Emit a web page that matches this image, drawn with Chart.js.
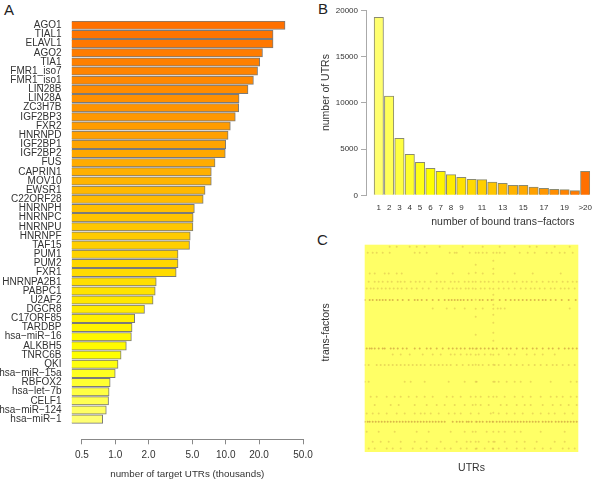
<!DOCTYPE html>
<html><head><meta charset="utf-8">
<script src="https://cdn.jsdelivr.net/npm/chart.js@4"></script>
<style>
html,body{margin:0;padding:0;background:#fff;width:600px;height:480px;overflow:hidden}
canvas{position:absolute;left:0;top:0}
.tag{position:absolute;font:15px "Liberation Sans",sans-serif;color:#222;line-height:15px}
</style></head><body>
<div class="tag" style="left:4px;top:2px">A</div>
<div class="tag" style="left:318px;top:1px">B</div>
<div class="tag" style="left:317px;top:232px">C</div>
<canvas id="a" width="600" height="480"></canvas>
<canvas id="b" width="600" height="480"></canvas>
<canvas id="c" width="600" height="480"></canvas>
<script>
const factorNames = ["AGO1","TIAL1","ELAVL1","AGO2","TIA1","FMR1_iso7","FMR1_iso1","LIN28B","LIN28A","ZC3H7B","IGF2BP3","FXR2","HNRNPD","IGF2BP1","IGF2BP2","FUS","CAPRIN1","MOV10","EWSR1","C22ORF28","HNRNPH","HNRNPC","HNRNPU","HNRNPF","TAF15","PUM1","PUM2","FXR1","HNRNPA2B1","PABPC1","U2AF2","DGCR8","C17ORF85","TARDBP","hsa−miR−16","ALKBH5","TNRC6B","QKI","hsa−miR−15a","RBFOX2","hsa−let−7b","CELF1","hsa−miR−124","hsa−miR−1"];
const targetUTRs = [34.4,26.8,26.8,21.5,20.3,19.4,17.8,15.9,13.2,13.1,12.2,11.0,10.5,10.0,9.9,8.0,7.4,7.4,6.5,6.25,5.2,5.07,5.05,4.77,4.7,3.7,3.7,3.56,2.35,2.3,2.2,1.84,1.5,1.42,1.4,1.26,1.13,1.06,1.0,0.90,0.88,0.87,0.83,0.77];
const targetTicks = [0.5,1,2,5,10,20,50];

const boundLabels = ["1","2","3","4","5","6","7","8","9","","11","","13","","15","","17","","19","",">20"];
const utrCounts = [19240,10740,6160,4430,3570,2920,2600,2230,1950,1730,1690,1440,1300,1080,1080,900,760,650,610,500,2600];
const countTicks = [0,5000,10000,15000,20000];

const stripeColA = 111, stripeColB = 128.6;
const stripeRowsA = [8,20,28,37,44,55,64,72,90,104,110,120,137,152,160,177,187,197,204];
const stripeRowsB = [8,16,24,29,37,44,50,55,60,64,70,78,88,96,104,110,120,137,152,168,177,187,197,204];
const rowPos = [2,8,28.7,37,43.7,55.3,63.7,103.7,109.7,120.3,137,152,160.3,168.7,177,187,197,203.7];
const strongRows = [55.3,103.7,177];
const rowCols = [
 [25,32,45,52,60,75,98,118,135,150,165,172,190,205],
 [3,8,12,18,25,50,55,62,85,90,92,105,114,118,122,132,135,140,155,163,170,182,187,195,200,208],
 [5,10,20,24,32,37,72,88,104,118,150,168,196],
 [4,10,14,18,23,27,33,36,40,46,51,55,60,66,72,76,80,86,90,94,100,104,108,116,120,124,134,138,143,148,152,158,162,167,172,178,184,188,192,198,203,208,212],
 [2,6,9,13,17,21,25,29,33,37,42,47,52,58,64,72,78,84,88,92,96,101,104,108,116,120,125,134,139,144,150,156,161,166,170,175,180,186,190,196,200,204,210],
 [0,5,8,12,15,18,21,25,28,33,38,44,50,53,57,62,68,74,80,84,87,90,93,96,99,103,107,115,118,123,127,135,141,146,150,154,158,162,166,170,174,178,181,186,191,197,204,211],
 [68,82,90,100,118,133,136,140,205],
 [2,5,7,10,14,18,20,26,29,33,38,42,50,55,62,66,72,78,84,88,92,96,100,105,108,112,116,120,124,128,132,138,142,146,152,158,162,168,172,178,184,188,194,200,204,208,212],
 [28,36,45,58,68,76,86,90,96,102,106,114,120,126,134,144,150,162,170,178,190],
 [0,4,12,16,20,24,28,32,36,40,44,48,52,56,60,66,70,74,78,82,86,92,98,104,108,114,118,124,130,134,140,146,152,158,164,170,176,182,188,192,198,204,210],
 [0,4,40,46,60,84,100,112,130,134,142,150,156,166,186,206,212],
 [6,12,22,30,36,44,52,60,68,82,88,96,106,116,124,132,140,150,158,166,176,186,192,198,206,212],
 [10,26,34,50,62,72,80,90,100,108,116,124,136,142,152,160,166,178,188,196,204,212],
 [2,8,14,22,32,40,50,56,60,66,74,84,90,96,106,114,126,134,142,150,158,168,176,184,190,200,208],
 [0,3,5,8,11,14,17,20,23,26,29,32,35,38,41,44,47,50,53,56,59,62,65,68,71,74,77,80,88,92,95,98,102,104,107,112,115,118,122,125,128,132,135,138,141,144,147,150,153,156,159,162,165,168,171,174,178,181,184,187,191,194,197,200,203,206,209,212],
 [2,14,30,52,64,86,100,108,122,134,140,150,156,176,200],
 [8,16,24,36,50,62,76,92,102,106,114,124,130,140,152,160,172,190,200],
 [4,10,22,28,36,48,56,62,72,80,86,96,102,112,120,128,134,142,152,160,170,178,186,198,204,210]
];

const num = (lo,hi,t)=>Math.round(lo+(hi-lo)*t);
const panelAColor = i => `rgb(255,${num(112,255,Math.min(1,i/36))},${num(0,115,Math.max(0,(i-36)/7))})`;
const panelBColor = i => `rgb(255,${num(255,112,Math.max(0,(i-5)/15))},${num(110,0,Math.min(1,i/5))})`;

Chart.defaults.font.family = '"Liberation Sans",Arial,sans-serif';
Chart.defaults.color = '#333';
const base = {responsive:false,animation:false,events:[],plugins:{legend:{display:false},tooltip:{enabled:false}}};

const axisLine = {id:'axisLine',afterDraw(ch){
  const s=ch.scales.x,c=ch.ctx;c.save();c.strokeStyle='#888';c.lineWidth=1;c.beginPath();
  const y=Math.round(s.top)+0.5;c.moveTo(s.getPixelForValue(targetTicks[0]),y);
  c.lineTo(s.getPixelForValue(targetTicks[targetTicks.length-1]),y);c.stroke();c.restore();}};

new Chart(document.getElementById('a'),{type:'bar',plugins:[axisLine],
 data:{datasets:[{data:targetUTRs.map((v,i)=>({x:v,y:i})),backgroundColor:targetUTRs.map((v,i)=>panelAColor(i)),borderColor:'#7a7a7a',borderWidth:1,barThickness:8.4}]},
 options:{...base,indexAxis:'y',layout:{padding:{left:0,top:20.7,right:297,bottom:0}},
  scales:{
   x:{type:'logarithmic',min:0.402,max:50,
      afterBuildTicks:s=>{s.ticks=targetTicks.map(v=>({value:v}));},
      afterFit:s=>{s.height=40.7;},
      border:{display:false},grid:{drawOnChartArea:false,color:'#888',tickLength:5},
      ticks:{autoSkip:false,maxRotation:0,font:{size:10},padding:5,callback:v=>Number(v).toFixed(1)},
      title:{display:true,text:'number of target UTRs (thousands)',font:{size:9.8},padding:0}},
   y:{type:'linear',offset:false,reverse:true,min:-0.5,max:45.2,
      afterBuildTicks:s=>{s.ticks=factorNames.map((n,i)=>({value:i}));},
      afterFit:s=>{s.width=71.5;},
      border:{display:false},grid:{display:false,drawTicks:false},
      ticks:{autoSkip:false,font:{size:10},padding:10,callback:v=>factorNames[v]}}
  }}});

new Chart(document.getElementById('b'),{type:'bar',
 data:{datasets:[{data:utrCounts.map((v,i)=>({x:i,y:v})),backgroundColor:utrCounts.map((v,i)=>panelBColor(i)),borderColor:'#8a8a70',borderWidth:1,barThickness:9.4}]},
 options:{...base,layout:{padding:{left:320,top:10.3,right:1,bottom:252}},
  scales:{
   x:{type:'linear',offset:false,min:-1.24,max:20.49,
      afterBuildTicks:s=>{s.ticks=boundLabels.map((n,i)=>({value:i}));},
      afterFit:s=>{s.height=32.7;},
      border:{display:false},grid:{display:false,drawTicks:false},
      ticks:{autoSkip:false,maxRotation:0,font:{size:8},padding:8,callback:v=>boundLabels[v]},
      title:{display:true,text:'                 number of bound trans−factors',font:{size:10.5},padding:0}},
   y:{type:'linear',min:0,max:20000,
      afterBuildTicks:s=>{s.ticks=countTicks.map(v=>({value:v}));},
      afterFit:s=>{s.width=46;},
      border:{display:true,color:'#aaa'},grid:{drawOnChartArea:false,color:'#aaa',tickLength:5},
      ticks:{font:{size:8},padding:3,callback:v=>String(v)},
      title:{display:true,text:'       number of UTRs',font:{size:10.5},padding:0}}
  }}});

const panelFill = {id:'panelFill',beforeDatasetsDraw(ch){const a=ch.chartArea;ch.ctx.save();ch.ctx.fillStyle='#FFFF66';ch.ctx.fillRect(a.left,a.top,a.width,a.height);ch.ctx.restore();}};
const softPoints=[],strongPoints=[];
rowPos.forEach((y,r)=>rowCols[r].forEach(x=>(strongRows.includes(y)?strongPoints:softPoints).push({x,y})));
stripeRowsA.forEach(y=>softPoints.push({x:stripeColA,y}));
stripeRowsB.forEach(y=>softPoints.push({x:stripeColB,y}));
new Chart(document.getElementById('c'),{type:'scatter',plugins:[panelFill],
 data:{datasets:[
  {data:softPoints,pointRadius:1,pointBorderWidth:0,backgroundColor:'rgba(205,165,70,0.42)'},
  {data:strongPoints,pointRadius:1,pointBorderWidth:0,backgroundColor:'rgba(190,125,50,0.55)'}]},
 options:{...base,layout:{padding:{left:320,top:244.7,right:21.7,bottom:6}},
  scales:{
   x:{type:'linear',min:0,max:213.6,afterFit:s=>{s.height=22;},border:{display:false},grid:{display:false},ticks:{display:false},
      title:{display:true,text:'UTRs',font:{size:10.5},padding:0}},
   y:{type:'linear',reverse:true,min:0,max:207.3,afterFit:s=>{s.width=44.7;},border:{display:false},grid:{display:false},ticks:{display:false},
      title:{display:true,text:'           trans-factors',font:{size:10.5},padding:0}}
  }}});
</script></body></html>
